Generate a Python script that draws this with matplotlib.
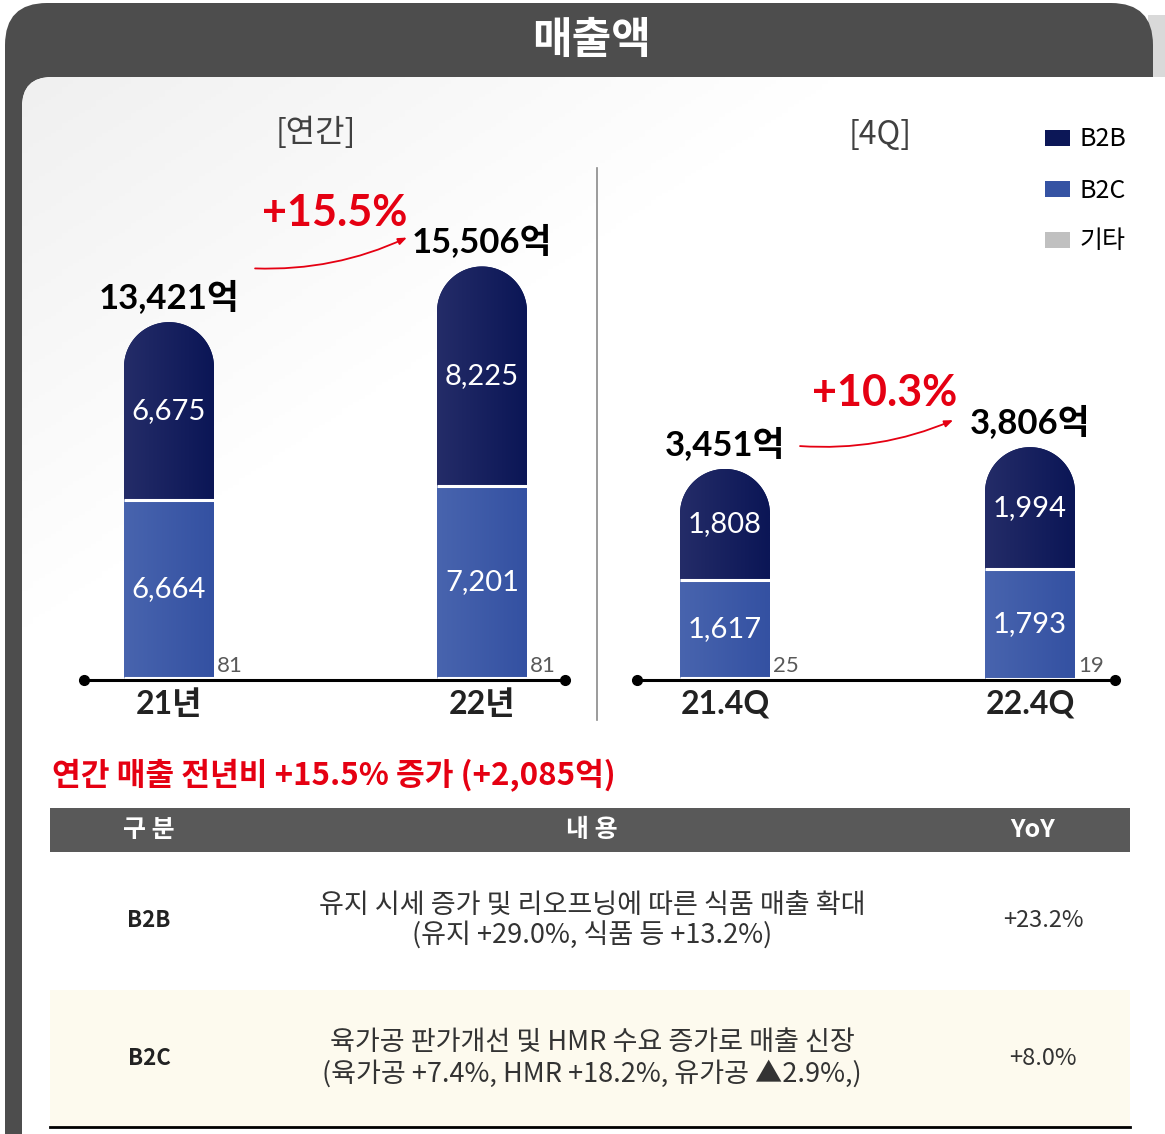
import numpy as np
import matplotlib
matplotlib.use('Agg')
import matplotlib.pyplot as plt
from matplotlib.patches import FancyBboxPatch, PathPatch, Rectangle
from matplotlib.path import Path
from matplotlib.colors import LinearSegmentedColormap

# ---- data ----
annual_labels = ['21년', '22년']
annual_b2b = [6675, 8225]
annual_b2c = [6664, 7201]
annual_etc = [81, 81]
annual_totals = [13421, 15506]
annual_growth = '+15.5%'

quarter_labels = ['21.4Q', '22.4Q']
quarter_b2b = [1808, 1994]
quarter_b2c = [1617, 1793]
quarter_etc = [25, 19]
quarter_totals = [3451, 3806]
quarter_growth = '+10.3%'

legend_labels = ['B2B', 'B2C', '기타']

summary = '연간 매출 전년비 +15.5% 증가 (+2,085억)'
table_header = ['구 분', '내 용', 'YoY']
table_cat = ['B2B', 'B2C']
table_desc = ['유지 시세 증가 및 리오프닝에 따른 식품 매출 확대\n(유지 +29.0%, 식품 등 +13.2%)',
              '육가공 판가개선 및 HMR 수요 증가로 매출 신장\n(육가공 +7.4%, HMR +18.2%, 유가공 ▲2.9%,)']
table_yoy = ['+23.2%', '+8.0%']

KOR = ['Noto Sans CJK KR', 'DejaVu Sans']
NUM = ['Lato', 'Noto Sans CJK KR', 'DejaVu Sans']
plt.rcParams['font.family'] = KOR

W, H = 1165, 1134
fig = plt.figure(figsize=(W / 100, H / 100), dpi=100)
fig.patch.set_facecolor('white')

# background / frame in pixel coords
bg = fig.add_axes([0, 0, 1, 1])
bg.set_xlim(0, W)
bg.set_ylim(H, 0)
bg.axis('off')

bg.add_patch(Rectangle((1148, 15), 17, 70, color='#d9d9d9', lw=0))
outer = FancyBboxPatch((5, 3), 1148, 1180, boxstyle='round,pad=0,rounding_size=42',
                       fc='#4d4d4d', ec='none')
bg.add_patch(outer)
panel = FancyBboxPatch((22, 77), 1180, 1150, boxstyle='round,pad=0,rounding_size=30',
                       fc='white', ec='none')
bg.add_patch(panel)
gx, gy = np.meshgrid(np.linspace(0, 1, 200), np.linspace(0, 1, 200))
grad = np.clip(gx * 1.4 + gy * 1.2, 0, 1)
bg_cmap = LinearSegmentedColormap.from_list('bgc', ['#f0f0f0', '#ffffff'])
im = bg.imshow(grad, cmap=bg_cmap, extent=(22, 1165, 740, 77), aspect='auto', zorder=1)
im.set_clip_path(panel)
bg.set_xlim(0, W)
bg.set_ylim(H, 0)

bg.text(592, 40, '매출액', color='white', fontsize=31, fontweight='bold', ha='center', va='center')
bg.text(316, 133, '[연간]', color='#404040', fontsize=23, fontweight='light', ha='center', va='center', zorder=3)
bg.text(880, 135, '[4Q]', color='#404040', fontsize=23, fontweight='light', ha='center', va='center', zorder=3)
bg.plot([597, 597], [168, 720], color='#8a8a8a', lw=1.2, zorder=3)

# summary + table
bg.text(52, 776, summary, color='#e50012', fontsize=22.5, fontweight='bold', ha='left', va='center')
head_x = [149, 592, 1033]
col_x = [149, 592, 1043]
bg.add_patch(Rectangle((50, 808), 1080, 44, color='#595959', lw=0, zorder=2))
for cx, t in zip(head_x, table_header):
    bg.text(cx, 830, t, color='white', fontsize=18, fontweight='bold', ha='center', va='center', zorder=3)
row_fill = ['#ffffff', '#fdfaee']
row_h = 137.5
for i, (cat, desc, yoy) in enumerate(zip(table_cat, table_desc, table_yoy)):
    top = 852 + i * row_h
    bg.add_patch(Rectangle((50, top), 1080, row_h, color=row_fill[i], lw=0, zorder=2))
    cy = top + row_h / 2
    bg.text(col_x[0], cy, cat, fontsize=16, fontweight='bold', color='#222222', ha='center', va='center', zorder=3)
    bg.text(col_x[1], cy, desc, fontsize=19.5, color='#333333', ha='center', va='center',
            linespacing=1.15, zorder=3)
    bg.text(col_x[2], cy, yoy, fontsize=17, color='#333333', ha='center', va='center', zorder=3)
bg.plot([50, 1130], [852 + 2 * row_h, 852 + 2 * row_h], color='black', lw=2, zorder=3)


def gradient_fill(ax, bar, clip, left, right):
    cmap = LinearSegmentedColormap.from_list('g', [left, right])
    x0, y0 = bar.get_x(), bar.get_y()
    img = ax.imshow(np.linspace(0, 1, 64)[None, :], cmap=cmap, aspect='auto',
                    extent=(x0, x0 + bar.get_width(), y0, y0 + bar.get_height()),
                    interpolation='bilinear', zorder=2.5)
    img.set_clip_path(clip)


def draw_panel(ax, labels, b2b, b2c, etc, totals, growth, xlim, ytop, width, base_x,
               arrow_start, arrow_end, growth_pos):
    x = np.arange(len(labels))
    ax.set_xlim(*xlim)
    ax.set_ylim(0, ytop)
    ax.patch.set_alpha(0)
    for s in ax.spines.values():
        s.set_visible(False)
    ax.set_yticks([])

    etc = np.array(etc)
    b2c = np.array(b2c)
    b2b = np.array(b2b)
    bars_etc = ax.bar(x, etc, width, color='#c0c0c0', zorder=2)
    bars_b2c = ax.bar(x, b2c, width, bottom=etc, color='#3553a3', zorder=2)
    bars_b2b = ax.bar(x, b2b, width, bottom=etc + b2c, color='#0c1757', zorder=2)

    p0 = ax.transData.transform((0, 0))
    p1 = ax.transData.transform((1, 1))
    sx, sy = p1[0] - p0[0], p1[1] - p0[1]

    for bar in bars_b2c:
        gradient_fill(ax, bar, bar, '#4864ae', '#3451a2')
    for bar in bars_b2b:
        x0, y0, w = bar.get_x(), bar.get_y(), bar.get_width()
        top = y0 + bar.get_height()
        rx = w / 2
        ry = rx * sx / sy
        t = np.linspace(0, np.pi, 80)
        arc = np.column_stack([x0 + rx + rx * np.cos(t), top - ry + ry * np.sin(t)])
        verts = np.vstack([[x0, y0], [x0 + w, y0], arc, [x0, y0]])
        clip = PathPatch(Path(verts), transform=ax.transData, fc='none', ec='none')
        bar.set_clip_path(clip)
        gradient_fill(ax, bar, clip, '#242c68', '#0b1656')

    # white separators
    for xi, e, c in zip(x, etc, b2c):
        ax.hlines([e, e + c], xi - width / 2, xi + width / 2, color='white', lw=2.2, zorder=3)

    for xi, e, c, b in zip(x, etc, b2c, b2b):
        ax.text(xi, e + c / 2, f'{c:,}', color='white', fontsize=21,
                family=NUM, ha='center', va='center', zorder=4)
        ax.text(xi, e + c + b / 2, f'{b:,}', color='white', fontsize=21,
                family=NUM, ha='center', va='center', zorder=4)
        ax.annotate(f'{e}', xy=(xi + width / 2, 0), xytext=(2, 3), textcoords='offset points',
                    ha='left', va='bottom', color='#595959', fontsize=16,
                    family=NUM, zorder=4)

    for xi, e, c, b, tot in zip(x, etc, b2c, b2b, totals):
        ax.annotate(f'{tot:,}억', xy=(xi, e + c + b), xytext=(0, 6), textcoords='offset points',
                    ha='center', va='bottom', fontsize=25, fontweight='bold', family=NUM,
                    color='black', zorder=4)

    ax.annotate('', xy=arrow_end, xytext=arrow_start,
                arrowprops=dict(arrowstyle='-|>,head_length=0.5,head_width=0.2', color='#e50012',
                                lw=1.3, connectionstyle='arc3,rad=0.12', shrinkA=0, shrinkB=0),
                zorder=4)
    ax.text(growth_pos[0], growth_pos[1], growth, color='#e50012', fontsize=31, fontweight='bold',
            family=NUM, ha='center', va='center', zorder=4)

    ax.plot(base_x, [0, 0], color='black', lw=2.2, marker='o', ms=7, clip_on=False, zorder=5)
    ax.set_xticks(x, labels, fontsize=23, fontweight='bold', family=NUM, color='#222222')
    ax.tick_params(axis='x', length=0, pad=7)
    return bars_b2b, bars_b2c, bars_etc


ax1 = fig.add_axes([59.45 / W, 1 - 680 / H, 532.1 / W, 520 / H])
draw_panel(ax1, annual_labels, annual_b2b, annual_b2c, annual_etc, annual_totals, annual_growth,
           (-0.35, 1.35), 19500, 0.2875, [-0.27, 1.265],
           (0.275, annual_totals[0] * 1.15), (0.76, annual_totals[1] * 1.07),
           (0.53, annual_totals[1] * 1.13))

ax2 = fig.add_axes([615.2 / W, 1 - 680 / H, 524.6 / W, 520 / H])
h_b2b, h_b2c, h_etc = draw_panel(ax2, quarter_labels, quarter_b2b, quarter_b2c, quarter_etc,
                                 quarter_totals, quarter_growth,
                                 (-0.36, 1.36), 8500, 0.295, [-0.289, 1.279],
                                 (0.246, quarter_totals[0] * 1.108), (0.748, quarter_totals[1] * 1.116),
                                 (0.525, quarter_totals[1] * 1.232))

fig.legend([h_b2b, h_b2c, h_etc], legend_labels, loc='upper left',
           bbox_to_anchor=(1022 / W, 1 - 104 / H), frameon=False,
           handlelength=1.0, handleheight=0.6, handletextpad=0.4, labelspacing=1.0,
           prop={'family': KOR, 'size': 18})

fig.savefig('out.png', dpi=100)
